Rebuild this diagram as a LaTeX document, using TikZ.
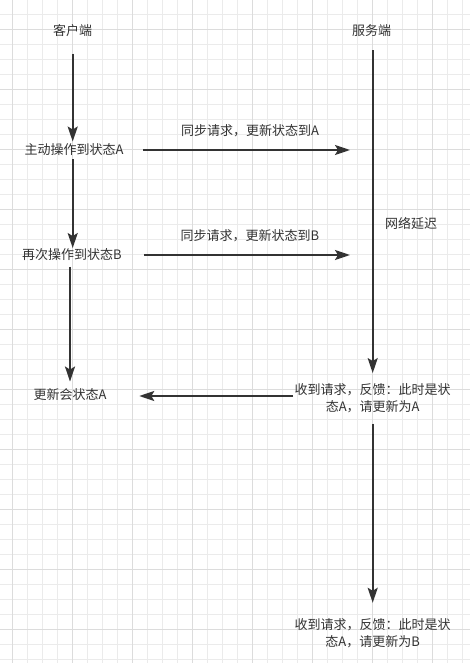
\documentclass[tikz,border=0pt]{standalone}
\usepackage{fontspec}
\setmainfont{Noto Sans CJK SC}
\usetikzlibrary{arrows.meta}
\definecolor{gridminor}{HTML}{EBEBEB}
\definecolor{gridmajor}{HTML}{DCDCDC}
\definecolor{ink}{HTML}{333333}
\begin{document}
\begin{tikzpicture}[x=1pt,y=-1pt,
  lbl/.style={inner sep=0pt, font=\fontsize{13}{16}\selectfont, text=ink, text height=9.5pt, text depth=3pt},
  multi/.style={inner sep=0pt, font=\fontsize{13}{16.5}\selectfont, text=ink, align=center},
  flow/.style={draw=ink, line width=2pt, -{Stealth[length=15pt,width=10pt,inset=3pt]}},
  minorline/.style={draw=gridminor, line width=1pt},
  majorline/.style={draw=gridmajor, line width=1pt}]
% background and bounds
\fill[white] (0,0) rectangle (470,663);
\useasboundingbox (0,0) rectangle (470,663);
% grid
\foreach \i in {0,...,30} {
  \pgfmathsetmacro\gx{12.7+15*\i}
  \draw[minorline] (\gx,0) -- (\gx,663);
}
\foreach \j in {0,...,43} {
  \pgfmathsetmacro\gy{14.3+15*\j}
  \draw[minorline] (0,\gy) -- (470,\gy);
}
\foreach \i in {0,...,7} {
  \pgfmathsetmacro\gx{12.7+60*\i}
  \draw[majorline] (\gx,0) -- (\gx,663);
}
\foreach \j in {0,...,10} {
  \pgfmathsetmacro\gy{29.3+60*\j}
  \draw[majorline] (0,\gy) -- (470,\gy);
}
% nodes
\node[lbl] (client) at (72.7,32.3) {客户端};
\node[lbl] (server) at (371.5,32.3) {服务端};
\node[lbl] (op1) at (74,151.5) {主动操作到状态A};
\node[lbl] (op2) at (72,256) {再次操作到状态B};
\node[lbl] (op3) at (70,396) {更新会状态A};
\node[lbl] (req1) at (250,132.5) {同步请求，更新状态到A};
\node[lbl] (req2) at (250,237.5) {同步请求，更新状态到B};
\node[lbl] (delay) at (411,225) {网络延迟};
\node[multi, minimum height=50pt] (fb1) at (372.7,398.3) {收到请求，反馈：此时是状\\态A，请更新为A};
\node[multi, minimum height=60pt] (fb2) at (372.7,633) {收到请求，反馈：此时是状\\态A，请更新为B};
\coordinate (s1) at (350,150);
\coordinate (s2) at (350,255);
% client lifeline
\draw[flow, shorten <=15pt, shorten >=3.5pt] (client.south) -- (client.south |- op1.north);
\draw[flow, shorten <=1.5pt, shorten >=1.5pt] (client.south |- op1.south) -- (client.south |- op2.north);
\draw[flow, shorten <=4.5pt, shorten >=8pt] (op3.north |- op2.south) -- (op3.north);
% server lifeline
\draw[flow, shorten <=11.5pt] (fb1.north |- server.south) -- (fb1.north);
\draw[flow] (fb1.south) -- (fb2.north);
% messages
\draw[flow, shorten <=19.6pt] (op1.east |- s1) -- (s1);
\draw[flow, shorten <=21.8pt] (op2.east |- s2) -- (s2);
\draw[flow, shorten <=1.5pt, shorten >=32.6pt] (fb1.west |- op3.east) -- (op3.east);
\end{tikzpicture}
\end{document}
